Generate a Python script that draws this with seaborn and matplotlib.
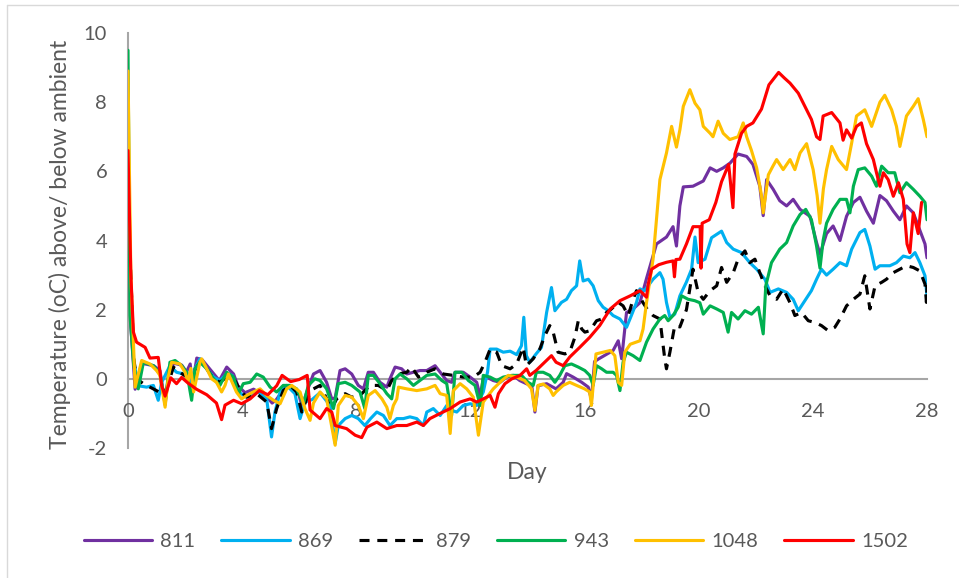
"""
Temperature above/below ambient per pile, 28-day trace (Excel-style line chart).
"""

import matplotlib
matplotlib.use("Agg")
import matplotlib.pyplot as plt
from matplotlib.lines import Line2D
import seaborn as sns

# ── Data (day, °C above ambient) ────────────────────────────────────────────
s811 = [
    (0, 5.0), (0.1, 1.5), (0.25, -0.3), (0.48, 0.45), (0.9, 0.38), (1.12, 0.24),
    (1.3, -0.75), (1.42, 0.1), (1.6, 0.45), (1.88, 0.4), (2.05, 0.2), (2.18, 0.43),
    (2.25, -0.2), (2.41, 0.6), (2.6, 0.55), (2.9, 0.25), (3.2, -0.05), (3.46, 0.34),
    (3.7, 0.14), (3.85, -0.2), (4.1, -0.4), (4.4, -0.3), (4.7, -0.45), (4.9, -0.55),
    (5.05, -0.7), (5.2, -0.6), (5.45, -0.3), (5.7, -0.2), (5.95, -0.35), (6.1, -0.8),
    (6.3, -0.3), (6.5, 0.14), (6.73, 0.24), (6.96, -0.1), (7.14, -0.58), (7.26, -0.55),
    (7.43, 0.24), (7.61, 0.29), (7.84, 0.14), (8.07, -0.19), (8.25, -0.29), (8.42, 0.19),
    (8.6, 0.19), (8.83, -0.1), (9.07, -0.24), (9.18, 0.0), (9.36, 0.34), (9.59, 0.29),
    (9.77, 0.14), (10.0, 0.19), (10.23, 0.24), (10.47, 0.24), (10.76, 0.38), (10.94, 0.19),
    (11.17, -0.05), (11.34, -0.1), (11.46, 0.19), (11.75, 0.19), (11.99, 0.05), (12.22, -0.1),
    (12.34, -0.5), (12.45, 0.0), (12.57, 0.05), (12.8, -0.05), (13.04, -0.1), (13.27, 0.05),
    (13.5, 0.1), (13.73, -0.05), (13.96, -0.14), (14.15, -0.2), (14.26, -0.96), (14.37, -0.2),
    (14.67, -0.14), (15.0, -0.29), (15.25, -0.1), (15.37, 0.15), (15.6, 0.05), (15.9, -0.1),
    (16.13, -0.24), (16.24, -0.6), (16.35, 0.5), (16.5, 0.58), (17.0, 0.82), (17.18, 1.1),
    (17.3, 0.58), (17.47, 1.92), (17.7, 2.02), (17.94, 2.2), (18.17, 2.9), (18.52, 3.9),
    (18.87, 4.1), (19.1, 4.4), (19.22, 3.84), (19.34, 5.0), (19.46, 5.55), (19.8, 5.57),
    (20.16, 5.72), (20.4, 6.1), (20.63, 6.0), (20.86, 6.1), (21.1, 6.24), (21.38, 6.5),
    (21.68, 6.43), (21.9, 6.2), (22.14, 5.57), (22.26, 4.72), (22.38, 5.76), (22.61, 5.48),
    (22.84, 5.15), (23.08, 5.0), (23.31, 5.19), (23.55, 4.9), (23.9, 4.7), (24.13, 3.94),
    (24.25, 3.6), (24.48, 4.2), (24.71, 4.42), (24.95, 4.0), (25.18, 4.7), (25.42, 5.1),
    (25.65, 5.25), (25.88, 4.85), (26.12, 4.5), (26.35, 5.3), (26.58, 5.15), (26.82, 4.85),
    (27.05, 4.6), (27.28, 5.0), (27.52, 4.8), (27.75, 4.3), (27.93, 3.9), (28.0, 3.5),
]
s869 = [
    (0, 3.2), (0.1, 2.6), (0.2, 0.5), (0.36, -0.2), (0.65, -0.24), (0.89, -0.19),
    (1.06, -0.62), (1.18, -0.1), (1.47, 0.38), (1.7, 0.19), (1.9, 0.15), (2.06, 0.2),
    (2.2, -0.2), (2.35, 0.3), (2.52, 0.58), (2.76, 0.29), (3.0, 0.05), (3.22, -0.05),
    (3.46, 0.14), (3.65, 0.1), (3.87, -0.38), (4.16, -0.53), (4.51, -0.34), (4.86, -0.58),
    (5.03, -1.68), (5.15, -0.96), (5.33, -0.38), (5.56, -0.19), (5.85, -0.43), (6.03, -1.15),
    (6.2, -0.67), (6.45, -0.6), (6.73, -0.4), (7.08, -0.77), (7.26, -1.87), (7.37, -1.35),
    (7.61, -1.15), (7.84, -1.06), (8.07, -1.15), (8.3, -1.35), (8.5, -1.15), (8.72, -0.96),
    (8.95, -1.06), (9.18, -1.35), (9.42, -1.15), (9.65, -1.15), (9.88, -1.1), (10.12, -1.15),
    (10.35, -1.35), (10.47, -0.96), (10.7, -0.86), (10.94, -1.06), (11.17, -0.77), (11.3, -0.9),
    (11.52, -0.96), (11.75, -0.77), (11.99, -0.72), (12.22, -0.77), (12.45, -0.38), (12.6, 0.2),
    (12.69, 0.86), (12.92, 0.86), (13.15, 0.77), (13.39, 0.8), (13.62, 0.7), (13.79, 0.96),
    (13.87, 1.78), (13.96, 0.67), (14.08, 0.48), (14.3, 0.72), (14.49, 0.91), (14.67, 1.92),
    (14.84, 2.64), (14.96, 1.97), (15.19, 2.21), (15.37, 2.3), (15.54, 2.55), (15.72, 2.69),
    (15.83, 3.41), (15.95, 2.83), (16.13, 2.88), (16.3, 2.69), (16.48, 2.26), (16.65, 2.07),
    (16.83, 1.97), (17.0, 1.83), (17.24, 1.73), (17.47, 1.49), (17.64, 1.83), (17.82, 2.21),
    (17.94, 2.6), (18.1, 2.55), (18.4, 2.88), (18.64, 3.07), (18.75, 2.88), (18.87, 2.21),
    (18.99, 1.78), (19.16, 1.87), (19.34, 2.4), (19.57, 2.8), (19.75, 3.17), (19.87, 4.1),
    (19.98, 3.36), (20.22, 3.46), (20.45, 4.08), (20.8, 4.27), (20.98, 3.94), (21.21, 3.75),
    (21.5, 3.65), (21.79, 3.36), (22.03, 3.17), (22.32, 2.88), (22.5, 2.5), (22.79, 2.6),
    (23.08, 2.5), (23.31, 2.3), (23.49, 1.97), (23.72, 2.26), (23.95, 2.55), (24.13, 2.88),
    (24.3, 3.17), (24.48, 3.0), (24.71, 3.17), (24.95, 3.36), (25.18, 3.27), (25.36, 3.75),
    (25.65, 4.23), (25.82, 4.32), (26.0, 3.84), (26.18, 3.17), (26.35, 3.27), (26.7, 3.27),
    (26.93, 3.36), (27.17, 3.55), (27.4, 3.5), (27.58, 3.65), (27.75, 3.36), (27.93, 2.98),
    (28.0, 2.4),
]
s879 = [
    (0, 4.7), (0.1, 3.0), (0.2, 0.6), (0.3, 0.0), (0.54, -0.14), (0.77, -0.24),
    (1.0, -0.34), (1.18, -0.43), (1.36, -0.29), (1.59, 0.34), (1.82, 0.19), (2.06, 0.05),
    (2.29, 0.19), (2.52, 0.48), (2.76, 0.29), (3.0, 0.0), (3.22, -0.1), (3.46, 0.05),
    (3.75, -0.05), (3.93, -0.34), (4.16, -0.53), (4.51, -0.43), (4.86, -0.67), (5.03, -1.44),
    (5.21, -0.86), (5.44, -0.34), (5.68, -0.19), (5.91, -0.38), (6.09, -0.96), (6.26, -0.58),
    (6.5, -0.29), (6.73, -0.19), (7.02, -0.67), (7.14, -0.86), (7.31, -0.58), (7.61, -0.43),
    (7.84, -0.53), (8.13, -0.48), (8.48, -0.19), (8.77, -0.19), (9.07, -0.34), (9.24, -0.05),
    (9.48, 0.14), (9.77, 0.19), (9.94, 0.34), (10.18, 0.05), (10.47, 0.19), (10.76, 0.29),
    (11.05, 0.14), (11.4, 0.1), (11.75, 0.05), (12.1, 0.05), (12.34, 0.19), (12.51, 0.48),
    (12.69, 0.86), (12.92, 0.77), (13.1, 0.38), (13.39, 0.29), (13.62, 0.43), (13.85, 0.91),
    (13.96, 0.38), (14.2, 0.58), (14.43, 0.86), (14.61, 1.25), (14.78, 1.54), (14.9, 1.35),
    (15.07, 0.77), (15.31, 0.72), (15.48, 0.77), (15.66, 1.2), (15.78, 1.68), (15.9, 1.44),
    (16.01, 1.35), (16.18, 1.39), (16.42, 1.68), (16.6, 1.73), (16.77, 1.92), (16.94, 2.02),
    (17.18, 2.21), (17.35, 2.11), (17.53, 1.83), (17.7, 2.3), (17.82, 2.55), (18.05, 2.2),
    (18.23, 1.97), (18.4, 1.83), (18.64, 1.73), (18.81, 0.58), (18.87, 0.29), (18.99, 0.77),
    (19.16, 1.54), (19.34, 1.5), (19.57, 2.0), (19.8, 3.17), (19.98, 2.5), (20.16, 2.3),
    (20.4, 2.55), (20.63, 2.69), (20.8, 3.22), (20.98, 2.79), (21.21, 3.07), (21.38, 3.46),
    (21.62, 3.7), (21.79, 3.36), (21.97, 3.46), (22.14, 3.07), (22.32, 2.69), (22.5, 2.4),
    (22.73, 2.3), (22.96, 2.6), (23.2, 2.2), (23.37, 1.83), (23.6, 1.92), (23.84, 1.68),
    (24.07, 1.63), (24.3, 1.54), (24.54, 1.39), (24.77, 1.49), (24.95, 1.73), (25.18, 2.11),
    (25.42, 2.3), (25.65, 2.45), (25.82, 2.98), (26.0, 2.02), (26.18, 2.69), (26.41, 2.79),
    (26.58, 2.88), (26.82, 3.07), (27.05, 3.17), (27.28, 3.27), (27.52, 3.22), (27.75, 3.12),
    (27.93, 2.74), (27.98, 2.21), (28.0, 2.7),
]
s943 = [
    (0, 9.5), (0.07, 1.83), (0.2, 0.4), (0.36, -0.29), (0.54, 0.48), (0.89, 0.38),
    (1.12, 0.14), (1.3, -0.67), (1.47, 0.48), (1.65, 0.53), (1.88, 0.38), (2.06, 0.19),
    (2.23, -0.62), (2.35, 0.29), (2.52, 0.48), (2.76, 0.29), (3.0, 0.0), (3.22, -0.19),
    (3.46, 0.19), (3.7, 0.05), (3.87, -0.43), (4.04, -0.14), (4.28, -0.1), (4.51, 0.14),
    (4.74, 0.05), (4.98, -0.24), (5.21, -0.38), (5.44, -0.19), (5.68, -0.19), (5.91, -0.29),
    (6.15, -0.72), (6.32, -0.19), (6.55, 0.0), (6.73, -0.05), (6.96, -0.29), (7.2, -0.86),
    (7.37, -0.14), (7.61, -0.1), (7.84, -0.19), (8.13, -0.38), (8.3, -0.86), (8.42, 0.1),
    (8.6, 0.1), (8.83, -0.14), (9.07, -0.43), (9.24, -0.58), (9.36, 0.0), (9.53, 0.14),
    (9.77, 0.0), (10.0, -0.19), (10.23, -0.05), (10.47, 0.1), (10.76, 0.14), (11.0, -0.05),
    (11.17, -0.14), (11.34, -1.06), (11.46, 0.19), (11.7, 0.19), (11.93, -0.05), (12.16, -0.19),
    (12.34, -0.77), (12.45, 0.1), (12.69, 0.05), (12.92, -0.05), (13.15, 0.05), (13.45, 0.1),
    (13.79, 0.1), (14.02, -0.1), (14.2, -0.19), (14.31, 0.19), (14.55, 0.19), (14.78, 0.1),
    (14.96, -0.1), (15.13, 0.1), (15.31, 0.38), (15.54, 0.43), (15.78, 0.34), (16.01, 0.24),
    (16.18, 0.1), (16.3, -0.19), (16.42, 0.38), (16.6, 0.29), (16.77, 0.19), (17.0, 0.19),
    (17.12, 0.1), (17.24, -0.34), (17.35, 0.48), (17.47, 0.77), (17.7, 0.67), (17.94, 0.53),
    (18.17, 1.06), (18.4, 1.44), (18.64, 1.73), (18.81, 1.83), (18.93, 1.68), (19.1, 1.83),
    (19.28, 2.07), (19.4, 2.4), (19.63, 2.3), (19.86, 2.26), (20.04, 2.2), (20.16, 1.87),
    (20.4, 2.11), (20.63, 2.02), (20.86, 1.92), (21.03, 1.35), (21.15, 1.92), (21.38, 1.73),
    (21.62, 1.97), (21.85, 1.87), (22.09, 2.07), (22.26, 1.3), (22.35, 2.69), (22.55, 3.36),
    (22.84, 3.75), (23.08, 3.94), (23.31, 4.42), (23.55, 4.75), (23.75, 4.9), (23.95, 4.6),
    (24.13, 3.84), (24.25, 3.2), (24.36, 4.0), (24.48, 4.5), (24.71, 4.9), (24.95, 5.19),
    (25.18, 5.19), (25.3, 4.8), (25.42, 5.57), (25.59, 6.05), (25.82, 6.1), (26.06, 5.86),
    (26.23, 5.57), (26.41, 6.15), (26.64, 5.96), (26.87, 5.96), (27.05, 5.38), (27.28, 5.67),
    (27.52, 5.48), (27.75, 5.28), (27.93, 5.1), (28.0, 4.6),
]
s1048 = [
    (0, 8.9), (0.1, 3.0), (0.25, -0.24), (0.48, 0.53), (0.77, 0.43), (1.0, 0.24),
    (1.12, 0.1), (1.3, -0.82), (1.42, 0.1), (1.53, 0.48), (1.82, 0.43), (2.0, 0.19),
    (2.1, -0.1), (2.2, 0.3), (2.3, -0.38), (2.52, 0.48), (2.58, 0.58), (2.76, 0.29),
    (2.93, 0.0), (3.1, -0.1), (3.28, -0.38), (3.4, -0.19), (3.52, 0.14), (3.8, -0.38),
    (3.98, -0.58), (4.16, -0.48), (4.39, -0.38), (4.63, -0.29), (4.86, -0.48), (5.1, -0.62),
    (5.33, -0.72), (5.56, -0.29), (5.74, -0.19), (6.03, -0.38), (6.2, -0.86), (6.38, -1.2),
    (6.5, -0.7), (6.73, -0.38), (6.96, -0.58), (7.26, -1.92), (7.37, -0.77), (7.61, -0.48),
    (7.84, -0.53), (8.07, -0.77), (8.25, -1.15), (8.42, -0.48), (8.66, -0.34), (8.9, -0.58),
    (9.07, -0.82), (9.18, -1.15), (9.3, -0.77), (9.42, -0.58), (9.48, -0.24), (9.77, -0.29),
    (10.12, -0.34), (10.47, -0.29), (10.76, -0.19), (10.94, -0.43), (11.17, -0.48), (11.29, -1.58),
    (11.4, -0.34), (11.64, -0.14), (11.87, -0.29), (12.1, -0.53), (12.28, -1.63), (12.45, -0.67),
    (12.8, -0.29), (13.1, -0.05), (13.33, 0.1), (13.62, 0.05), (13.9, -0.05), (14.14, -0.29),
    (14.26, -0.91), (14.37, -0.19), (14.55, -0.15), (14.78, -0.29), (14.9, -0.48), (15.0, -0.38),
    (15.25, -0.19), (15.48, -0.1), (15.72, -0.19), (16.0, -0.29), (16.18, -0.38), (16.24, -0.77),
    (16.4, 0.72), (16.65, 0.77), (16.9, 0.82), (17.06, 0.67), (17.18, -0.1), (17.3, -0.19),
    (17.41, 0.77), (17.6, 1.0), (17.94, 1.1), (18.05, 1.44), (18.17, 2.2), (18.4, 3.46),
    (18.52, 4.6), (18.64, 5.76), (18.87, 6.53), (19.05, 7.3), (19.22, 6.7), (19.34, 7.2),
    (19.46, 7.88), (19.69, 8.36), (19.87, 7.97), (20.04, 7.78), (20.16, 7.3), (20.4, 7.1),
    (20.5, 7.0), (20.68, 7.45), (20.86, 7.1), (21.09, 6.92), (21.38, 7.0), (21.56, 7.4),
    (21.68, 7.0), (21.85, 6.6), (22.03, 6.1), (22.2, 5.3), (22.26, 4.8), (22.44, 5.9),
    (22.6, 6.15), (22.73, 6.34), (22.96, 6.05), (23.2, 6.34), (23.37, 6.05), (23.55, 6.53),
    (23.78, 6.8), (24.01, 6.05), (24.15, 5.3), (24.25, 4.5), (24.37, 5.5), (24.48, 6.05),
    (24.66, 6.72), (24.89, 6.34), (25.18, 6.05), (25.36, 6.82), (25.53, 7.6), (25.82, 7.78),
    (26.06, 7.3), (26.35, 8.0), (26.52, 8.2), (26.76, 7.78), (26.93, 7.3), (27.05, 6.72),
    (27.28, 7.6), (27.52, 7.88), (27.69, 8.1), (27.87, 7.5), (28.0, 7.0),
]
s1502 = [
    (0, 6.6), (0.1, 3.0), (0.19, 1.35), (0.3, 1.06), (0.6, 0.91), (0.77, 0.6),
    (1.06, 0.62), (1.18, -0.2), (1.3, -0.5), (1.5, 0.03), (1.7, -0.14), (1.88, 0.04),
    (2.1, -0.12), (2.4, -0.3), (2.76, -0.46), (3.1, -0.7), (3.28, -1.18), (3.4, -0.76),
    (3.7, -0.62), (3.98, -0.72), (4.28, -0.58), (4.6, -0.34), (4.9, -0.46), (5.21, -0.2),
    (5.4, 0.1), (5.7, -0.08), (6.0, -0.02), (6.28, 0.1), (6.38, -0.9), (6.73, -1.15),
    (6.96, -0.86), (7.14, -0.96), (7.26, -1.35), (7.66, -1.44), (7.96, -1.63), (8.19, -1.7),
    (8.37, -1.4), (8.72, -1.25), (9.07, -1.44), (9.42, -1.35), (9.77, -1.35), (10.12, -1.25),
    (10.35, -1.35), (10.58, -1.15), (10.94, -1.0), (11.29, -0.86), (11.64, -0.67), (11.99, -0.58),
    (12.22, -0.67), (12.45, -0.58), (12.69, -0.48), (12.86, -0.82), (12.98, -0.43), (13.21, -0.14),
    (13.45, 0.0), (13.74, 0.1), (13.97, 0.29), (14.08, 0.1), (14.3, 0.24), (14.84, 0.67),
    (15.0, 0.48), (15.25, 0.38), (15.48, 0.63), (15.83, 0.91), (16.18, 1.2), (16.53, 1.54),
    (16.9, 2.02), (17.24, 2.26), (17.6, 2.4), (17.94, 2.55), (18.17, 2.36), (18.23, 2.74),
    (18.35, 3.17), (18.6, 3.3), (18.87, 3.37), (19.1, 3.41), (19.15, 2.95), (19.2, 3.45),
    (19.34, 3.46), (19.57, 3.9), (19.8, 4.4), (20.05, 4.4), (20.08, 3.2), (20.12, 4.5),
    (20.37, 4.6), (20.6, 5.1), (20.8, 5.7), (21.05, 6.2), (21.2, 4.95), (21.27, 6.5),
    (21.5, 7.1), (21.68, 7.3), (21.9, 7.4), (22.2, 7.8), (22.46, 8.5), (22.8, 8.86),
    (23.0, 8.7), (23.2, 8.55), (23.49, 8.26), (23.72, 7.88), (23.95, 7.5), (24.13, 7.0),
    (24.25, 6.92), (24.36, 7.6), (24.66, 7.7), (24.95, 7.4), (25.06, 6.9), (25.18, 7.2),
    (25.36, 6.96), (25.53, 7.3), (25.7, 7.4), (25.88, 6.8), (26.12, 6.34), (26.23, 5.96),
    (26.35, 5.57), (26.47, 5.96), (26.64, 5.76), (26.82, 5.28), (27.0, 5.67), (27.17, 5.19),
    (27.3, 3.9), (27.4, 3.65), (27.52, 4.8), (27.69, 4.2), (27.81, 5.1),
]

SERIES = ["811", "869", "879", "943", "1048", "1502"]
VALUES = [s811, s869, s879, s943, s1048, s1502]
COLORS = ["#7030A0", "#00B0F0", "#000000", "#00B050", "#FFC000", "#FF0000"]

Y_TICKS = [-2, 0, 2, 4, 6, 8, 10]
X_TICKS = [0, 4, 8, 12, 16, 20, 24, 28]

# ── Style ────────────────────────────────────────────────────────────────────
sns.set_theme(style="white")
plt.rcParams["font.family"] = ["Lato", "DejaVu Sans"]
TEXT = "#595959"
AXIS = "#A6A6A6"
DASH = (0, (3.2, 2.5))

fig = plt.figure(figsize=(9.59, 5.78), dpi=100)
ax = fig.add_axes([128 / 959, 1 - 448 / 578, (927 - 128) / 959, (448 - 33) / 578])

for name, pts, col in zip(SERIES, VALUES, COLORS):
    days = [p[0] for p in pts]
    temps = [p[1] for p in pts]
    sns.lineplot(
        x=days, y=temps, ax=ax,
        color=col, linewidth=2.25,
        linestyle=DASH if name == "879" else "-",
        sort=False, estimator=None, legend=False, label=name,
    )

ax.set_xlim(0, 28)
ax.set_ylim(-2, 10)
ax.set_xticks(X_TICKS)
ax.set_yticks(Y_TICKS)
ax.set_xticklabels([str(t) for t in X_TICKS])
ax.set_yticklabels([str(t) for t in Y_TICKS])

for side in ("top", "right"):
    ax.spines[side].set_visible(False)
ax.spines["bottom"].set_position(("data", 0))
for side in ("bottom", "left"):
    ax.spines[side].set_color(AXIS)
    ax.spines[side].set_linewidth(1.5)
    ax.spines[side].set_zorder(0.5)

ax.tick_params(axis="both", length=0, labelsize=14.5, labelcolor=TEXT)
ax.tick_params(axis="x", pad=17.5)
ax.tick_params(axis="y", pad=15)

ax.set_xlabel("Day", fontsize=16.5, color=TEXT)
ax.xaxis.set_label_coords(0.5, -0.034)
ax.set_ylabel("Temperature (oC) above/ below ambient", fontsize=16.5, color=TEXT)
ax.yaxis.set_label_coords(-0.071, 0.49)

# legend along the bottom, Excel style
handles = [
    Line2D([], [], color=c, linewidth=2.25, linestyle=DASH if n == "879" else "-")
    for n, c in zip(SERIES, COLORS)
]
leg = fig.legend(
    handles, SERIES,
    loc="center", bbox_to_anchor=(0.517, 1 - 541 / 578),
    ncol=6, frameon=False, fontsize=14.5,
    handlelength=3.4, handletextpad=0.4, columnspacing=1.3,
)
for t in leg.get_texts():
    t.set_color(TEXT)

# chart-area border (only top and left edges visible in the reference)
fig.add_artist(Line2D([7 / 959, 1], [1 - 4.5 / 578, 1 - 4.5 / 578],
                      transform=fig.transFigure, color="#D9D9D9", linewidth=1))
fig.add_artist(Line2D([7 / 959, 7 / 959], [0, 1 - 4.5 / 578],
                      transform=fig.transFigure, color="#D9D9D9", linewidth=1))

fig.savefig("out.png", dpi=100)
